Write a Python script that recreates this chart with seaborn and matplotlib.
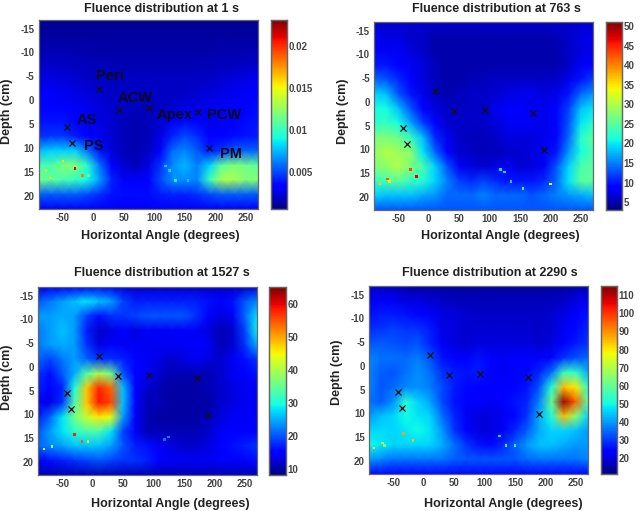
import numpy as np
import pandas as pd
import seaborn as sns
import matplotlib
matplotlib.use("Agg")
import matplotlib.pyplot as plt

sns.set_style("white")
plt.rcParams['font.family'] = ['Liberation Sans', 'DejaVu Sans']

angles = [-90,-70,-50,-30,-10,10,30,50,70,90,110,130,150,170,190,210,230,250,270]
depths = [-17,-13.96,-10.92,-7.88,-4.85,-1.81,1.23,4.27,7.31,10.35,13.38,16.42,19.46,22.5]
x_ticks = [-50,0,50,100,150,200,250]
y_ticks = [-15,-10,-5,0,5,10,15,20]

marker_x = [10,42,92,172,190,-43,-35]
marker_y = [-2.5,1.8,1.4,2.2,9.8,5.3,8.7]

region_names = ["Peri","ACW","AS","Apex","PCW","PS","PM"]
region_x = [4,40,-28,103,187,-15,208]
region_y = [-5.2,-0.8,3.8,2.9,2.9,9.3,11.0]

fluence_1s = np.array([
 [1.0]*19,
 [1.3]*19,
 [1.6,1.6,1.6,1.5,1.5,1.4,1.4,1.4,1.4,1.4,1.4,1.4,1.4,1.4,1.4,1.5,1.5,1.6,1.6],
 [2.0,2.0,2.0,1.8,1.8,1.7,1.7,1.6,1.6,1.6,1.6,1.6,1.6,1.7,1.7,1.8,1.8,2.0,2.0],
 [2.6,2.6,2.4,2.2,2.0,2.0,2.0,2.0,2.0,2.0,2.0,2.0,2.0,2.0,2.0,2.2,2.4,2.6,2.8],
 [3.0,3.0,2.8,2.6,2.4,2.2,2.0,2.0,2.0,2.0,2.0,2.0,2.0,2.2,2.4,2.6,2.8,3.0,3.2],
 [3.4,3.4,3.2,3.0,2.8,2.4,2.2,2.0,1.8,1.8,2.0,2.2,2.6,2.6,2.8,3.0,3.2,3.4,3.6],
 [3.8,3.8,3.8,3.4,3.0,2.6,2.2,1.8,1.6,1.8,2.2,3.0,3.6,3.2,2.8,3.0,3.4,3.6,3.8],
 [4.4,4.6,4.6,4.0,3.4,2.8,2.2,1.8,1.6,1.8,2.6,4.2,5.0,4.4,3.2,3.2,3.6,3.8,4.0],
 [7.5,8.0,8.0,8.0,6.0,3.8,2.4,1.8,1.6,2.0,3.4,5.8,6.4,5.4,4.0,4.6,5.4,5.6,5.6],
 [10.5,10.5,12.0,12.0,9.5,6.0,3.2,2.2,1.8,2.6,4.5,6.5,7.5,6.2,8.0,11.0,12.0,11.5,11.0],
 [11.5,11.0,10.5,10.0,9.0,7.0,4.2,3.0,3.0,3.4,5.0,6.5,6.5,6.4,10.0,13.0,13.0,12.0,12.0],
 [5.5,5.5,5.5,5.5,5.0,4.4,3.8,3.6,3.6,3.6,4.0,4.2,4.2,4.4,5.0,5.5,5.5,5.5,5.4],
 [3.0]*19,
]) * 1e-3

fluence_763s = np.array([
 [6.5]*19,
 [8,7,7,6,6,5,5,5,5,5,5,5,5,5,5,5.5,6,7,8],
 [9,8,8,7,6,5,5,5,5,5,5,5,5,5,5,5,6,7,8],
 [10,10,9,8,7,5.5,5,5,5,5,5,5,5,5,5,5,6,8,9],
 [14,13,11,9,7,5.5,5,5,5.5,5.5,6,6,6,6,6,6,7.5,10,12],
 [19,18,13,10,7.5,6,5,5.5,6,6,6.5,7,7.5,7.5,7,7.5,10,14,16],
 [21,21,18,13,9,7,6,6,6,6,7.5,8.5,8.5,8,7.5,8.5,12,18,20],
 [22,23,21,17,12,8.5,6.5,6,6,6,7,8,8,8,7.5,9,13,20,22],
 [27,27,26,23,18,11,7.5,6,5.5,5.5,6,7,7,7,7.5,9,14,22,25],
 [28,30,29,28,20,14,9,6.5,6,5.5,5.5,6,6.5,7,8,10,16,21,24],
 [27,28,30,27,24,19,13,8,7,6.5,7,8,6.5,7,8,13,19,24,25],
 [23,24,25,23,22,19,15,12,11,12,11,10,10,10,11,14,20,25,25],
 [19,18,18,18,17,16,14,14,14,15,14,14,14,13,14,15,16,17,18],
 [13]*19,
])

fluence_1527s = np.array([
 [13,14,14,15,15,16,15,13,12,12,12,12,12,12,12,12,12,12,13],
 [20,22,24,26,28,26,24,19,17,17,17,17,17,17,16,15,16,20,23],
 [24,24,25,24,19,16,18,18,19,20,20,20,20,18,15,13,14,21,28],
 [22,24,26,24,17,12,13,15,13,14,14,14,14,14,13,11,12,19,29],
 [22,24,25,24,18,13,15,14,14,14,14,14,14,15,14,11,12,18,25],
 [21,19,22,24,21,18,18,17,15,14,13,12,13,14,13,12,14,16,18],
 [18,16,20,25,34,40,36,20,15,14,12,11,11,11,11,12,14,15,16],
 [17,15,17,30,48,58,54,26,15,12,11,10,10,10,11,12,13,14,14],
 [15,13,18,33,48,59,56,26,15,11,11,10,10,10,10,12,13,14,14],
 [17,21,28,36,42,46,44,24,14,11,10,10,10,10,11,13,14,14,15],
 [20,24,28,31,33,33,28,19,14,11,11,11,11,11,12,14,15,15,15],
 [21,23,24,26,26,26,24,20,17,16,14,13,12,12,13,15,16,17,18],
 [15,16,17,18,19,20,19,18,18,17,15,14,14,14,14,15,15,15,16],
 [11]*19,
])

fluence_2290s = np.array([
 [18,18,17,16,15,15,15,15,15,15,15,15,15,15,15,15,15,16,17],
 [22,22,22,20,20,19,18,17,17,17,17,17,17,17,17,17,18,20,22],
 [26,27,27,26,25,23,20,20,19,18,18,18,18,18,18,19,21,24,26],
 [29,30,31,30,30,27,21,20,19,19,19,19,19,19,18,19,22,25,28],
 [33,34,33,32,33,28,22,20,19,20,20,20,20,20,19,20,23,27,30],
 [38,36,36,35,37,33,26,24,24,26,23,22,23,24,24,25,30,33,35],
 [38,34,33,36,39,36,30,27,26,27,24,22,23,25,28,36,55,54,42],
 [38,33,35,38,39,37,32,27,25,24,24,24,24,26,33,52,85,80,52],
 [36,34,39,52,46,41,32,26,24,23,22,24,26,28,38,60,112,95,58],
 [40,44,46,50,48,46,36,28,22,20,20,22,25,30,42,52,85,65,46],
 [46,47,46,48,50,48,40,30,24,20,20,22,28,34,42,46,46,44,40],
 [50,48,46,46,46,46,42,36,30,26,25,28,34,40,44,44,42,40,40],
 [40,38,36,36,36,36,36,34,33,33,33,33,33,35,36,36,36,36,38],
 [25]*19,
])

spot_x_1s = [-30,-18,-50,-78,-70,-8,118,125,135,155]
spot_y_1s = [14,15.5,12.5,14.5,16,15.5,13.5,14.5,16.5,16.5]
spot_v_1s = [21,18,14,14,14,11,8,8,9,8]
spot_x_763s = [-30,-20,-68,-80,200,-65,118,125,135,155]
spot_y_763s = [14,15.5,16,17,17,16.5,14,14.5,16.5,18]
spot_v_763s = [43,47,42,36,32,34,20,20,19,22]
spot_x_1527s = [-30,-18,-80,-67,-8,118,125]
spot_y_1527s = [14,15.5,17,16.5,15.5,15,14.5]
spot_v_1527s = [58,55,42,38,42,22,23]
spot_x_2290s = [-33,-18,-82,-68,-65,125,135,150]
spot_y_2290s = [14,15.5,17,16,16.5,14.5,16.5,16.5]
spot_v_2290s = [88,85,80,70,66,48,52,50]

W, H = 640, 511
fig = plt.figure(figsize=(6.4, 5.11), dpi=100)

def box(l, t, r, b):
    return [l/W, 1-b/H, (r-l)/W, (b-t)/H]

panels = [
 dict(data=fluence_1s, title="Fluence distribution at 1 s", vmin=0.0006, vmax=0.0231,
      ticks=[0.005,0.01,0.015,0.02], labels=["0.005","0.01","0.015","0.02"],
      ax=(38.5,20,258,209), cax=(271,20,287,209), tx=162, ty=8.5, lx=160, ly=236.5, yx=7, yy=111,
      sx=spot_x_1s, sy=spot_y_1s, sv=[v*1e-3 for v in spot_v_1s]),
 dict(data=fluence_763s, title="Fluence distribution at 763 s", vmin=3, vmax=51,
      ticks=list(range(5,51,5)), labels=[str(v) for v in range(5,51,5)],
      ax=(374,22,593,210), cax=(606,22,622,210), tx=496, ty=8.5, lx=500, ly=236.5, yx=343, yy=111,
      sx=spot_x_763s, sy=spot_y_763s, sv=spot_v_763s),
 dict(data=fluence_1527s, title="Fluence distribution at 1527 s", vmin=8.1, vmax=65.3,
      ticks=list(range(10,61,10)), labels=[str(v) for v in range(10,61,10)],
      ax=(38,287,257,475), cax=(269,287,286,475), tx=162, ty=273.5, lx=170, ly=503.5, yx=7, yy=377,
      sx=spot_x_1527s, sy=spot_y_1527s, sv=spot_v_1527s),
 dict(data=fluence_2290s, title="Fluence distribution at 2290 s", vmin=11.4, vmax=115,
      ticks=list(range(20,111,10)), labels=[str(v) for v in range(20,111,10)],
      ax=(369,286,588,474), cax=(601,286,617,474), tx=490, ty=273.5, lx=503, ly=503.5, yx=337, yy=372,
      sx=spot_x_2290s, sy=spot_y_2290s, sv=spot_v_2290s),
]

x_pos = lambda v: np.interp(v, angles, np.arange(len(angles)))
y_pos = lambda v: np.interp(v, depths, np.arange(len(depths)))

TXT = '#222222'
FRAME = '#666666'
for p in panels:
    ax = fig.add_axes(box(*p['ax']))
    cax = fig.add_axes(box(*p['cax']))
    df = pd.DataFrame(p['data'], index=depths, columns=angles)
    sns.heatmap(df, ax=ax, cbar_ax=cax, cmap='jet', vmin=p['vmin'], vmax=p['vmax'],
                shading='gouraud', rasterized=True)
    ax.set_xlim(0, len(angles)-1)
    ax.set_ylim(len(depths)-1, 0)
    ax.scatter(x_pos(p['sx']), y_pos(p['sy']), c=p['sv'], cmap='jet', vmin=p['vmin'],
               vmax=p['vmax'], s=3.5, marker='s', linewidths=0, zorder=3)
    ax.scatter(x_pos(marker_x), y_pos(marker_y), marker='x', c='#111111', s=20,
               linewidths=0.9, zorder=4)
    ax.set_xticks(x_pos(x_ticks))
    ax.set_xticklabels([str(v) for v in x_ticks], rotation=0)
    ax.set_yticks(y_pos(y_ticks))
    ax.set_yticklabels([str(v) for v in y_ticks], rotation=0)
    ax.tick_params(axis='both', direction='in', length=2.5, width=0.6, color='#333333',
                   labelsize=7, labelcolor='#444444', pad=3, bottom=True, left=True)
    for lab in ax.get_xticklabels() + ax.get_yticklabels():
        lab.set_fontweight('bold')
    for s in ax.spines.values():
        s.set_visible(True); s.set_color(FRAME); s.set_linewidth(0.9)
    ax.set_title(p['title'], x=p['tx']/W, y=1-p['ty']/H, transform=fig.transFigure,
                 fontsize=9, fontweight='bold', color=TXT, va='center', ha='center')
    ax.set_xlabel("Horizontal Angle (degrees)", fontsize=9, fontweight='bold', color=TXT, va='center')
    ax.xaxis.set_label_coords(p['lx']/W, 1-p['ly']/H, transform=fig.transFigure)
    ax.set_ylabel("Depth (cm)", fontsize=9, fontweight='bold', color=TXT, va='center')
    ax.yaxis.set_label_coords(p['yx']/W, 1-p['yy']/H, transform=fig.transFigure)
    cax.yaxis.set_ticks(p['ticks'])
    cax.yaxis.set_ticklabels(p['labels'])
    cax.tick_params(axis='y', direction='in', length=2.5, width=0.6, color='#333333',
                    labelsize=7, labelcolor='#444444', pad=1, right=True)
    for lab in cax.get_yticklabels():
        lab.set_fontweight('bold')
    for s in cax.spines.values():
        s.set_visible(True); s.set_color(FRAME); s.set_linewidth(0.9)
    if p['data'] is fluence_1s:
        for n, xv, yv in zip(region_names, region_x, region_y):
            ax.text(x_pos(xv), y_pos(yv), n, fontsize=10.5, fontweight='bold',
                    color='#0a0a22', ha='left', va='center', zorder=5)

fig.savefig("out.png", dpi=100)
